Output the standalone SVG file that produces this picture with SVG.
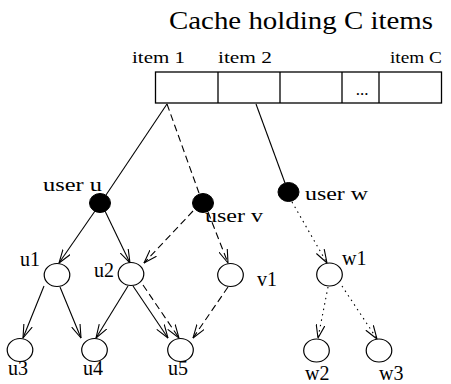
<svg xmlns="http://www.w3.org/2000/svg" width="451" height="384" viewBox="0 0 451 384">
<style>
text{font-family:"Liberation Serif","Times New Roman",serif;fill:#000}
.t{font-size:26px}
.it{font-size:17px}
.lb{font-size:19px}
.nl{font-size:20px}
.cell{fill:#fff;stroke:#000;stroke-width:1.3}
.fn{fill:#000;stroke:#000;stroke-width:1}
.on{fill:#fff;stroke:#000;stroke-width:1.2}
.e{fill:none;stroke:#000;stroke-width:1.1}
.d{stroke-dasharray:7,4}
.o{stroke-dasharray:1.5,4}
</style>
<defs>
<marker id="ah" viewBox="0 0 14 10" refX="13.5" refY="5" markerWidth="14" markerHeight="10" markerUnits="userSpaceOnUse" orient="auto">
<path d="M0,0.5 L13.5,5 L0,9.5" fill="none" stroke="#000" stroke-width="1.1"/>
</marker>
</defs>
<rect width="451" height="384" fill="#fff"/>
<g id="title"><text class="t" x="169" y="29" textLength="264" lengthAdjust="spacingAndGlyphs">Cache holding C items</text></g>
<g id="cache">
<rect class="cell" x="155.5" y="72" width="286" height="31"/>
<line class="cell" x1="218" y1="72" x2="218" y2="103"/>
<line class="cell" x1="280" y1="72" x2="280" y2="103"/>
<line class="cell" x1="342" y1="72" x2="342" y2="103"/>
<line class="cell" x1="379" y1="72" x2="379" y2="103"/>
<text class="it" x="362" y="95" text-anchor="middle">...</text>
<text class="it" x="132" y="63" textLength="53" lengthAdjust="spacingAndGlyphs">item 1</text>
<text class="it" x="218" y="63" textLength="54" lengthAdjust="spacingAndGlyphs">item 2</text>
<text class="it" x="390" y="63" textLength="52" lengthAdjust="spacingAndGlyphs">item C</text>
</g>
<g id="connectors">
<line class="e" x1="167" y1="104" x2="106" y2="195"/>
<line class="e d" x1="167" y1="104" x2="199" y2="193"/>
<line class="e" x1="256" y1="104" x2="285" y2="183"/>
<line class="e" x1="95" y1="211" x2="59" y2="263" marker-end="url(#ah)"/>
<line class="e" x1="105" y1="211" x2="130" y2="263" marker-end="url(#ah)"/>
<line class="e d" x1="193" y1="211" x2="144" y2="263" marker-end="url(#ah)"/>
<line class="e d" x1="208" y1="212" x2="228" y2="263" marker-end="url(#ah)"/>
<line class="e o" x1="292" y1="202" x2="327" y2="263" marker-end="url(#ah)"/>
<line class="e" x1="44" y1="286" x2="23" y2="338" marker-end="url(#ah)"/>
<line class="e" x1="60" y1="287" x2="81" y2="338" marker-end="url(#ah)"/>
<line class="e" x1="128" y1="286" x2="96" y2="338" marker-end="url(#ah)"/>
<line class="e" x1="133" y1="286" x2="168" y2="338" marker-end="url(#ah)"/>
<line class="e d" x1="143" y1="285" x2="179" y2="338" marker-end="url(#ah)"/>
<line class="e d" x1="228" y1="287" x2="193" y2="338" marker-end="url(#ah)"/>
<line class="e o" x1="328" y1="287" x2="318" y2="338" marker-end="url(#ah)"/>
<line class="e o" x1="342" y1="286" x2="377" y2="339" marker-end="url(#ah)"/>
</g>
<g id="user-u"><ellipse class="fn" cx="100" cy="203" rx="10.5" ry="9.5"/><text class="lb" x="43" y="191" textLength="59" lengthAdjust="spacingAndGlyphs">user u</text></g>
<g id="user-v"><ellipse class="fn" cx="203" cy="203" rx="10.5" ry="9.5"/><text class="lb" x="205" y="222" textLength="58" lengthAdjust="spacingAndGlyphs">user v</text></g>
<g id="user-w"><ellipse class="fn" cx="288.5" cy="192" rx="10.5" ry="9.5"/><text class="lb" x="305" y="200" textLength="63" lengthAdjust="spacingAndGlyphs">user w</text></g>
<g id="u1"><ellipse class="on" cx="57" cy="275" rx="12.8" ry="11.5"/><text class="nl" x="20" y="266">u1</text></g>
<g id="u2"><ellipse class="on" cx="131" cy="274" rx="12.8" ry="11.5"/><text class="nl" x="94" y="277">u2</text></g>
<g id="v1"><ellipse class="on" cx="230.5" cy="275" rx="12.8" ry="11.5"/><text class="nl" x="257" y="286">v1</text></g>
<g id="w1"><ellipse class="on" cx="329.5" cy="274.5" rx="12.8" ry="11.5"/><text class="nl" x="342" y="265">w1</text></g>
<g id="u3"><ellipse class="on" cx="20" cy="350" rx="12.8" ry="11.5"/><text class="nl" x="8" y="375">u3</text></g>
<g id="u4"><ellipse class="on" cx="94.5" cy="350" rx="12.8" ry="11.5"/><text class="nl" x="83" y="375">u4</text></g>
<g id="u5"><ellipse class="on" cx="180.5" cy="350" rx="12.8" ry="11.5"/><text class="nl" x="168" y="375">u5</text></g>
<g id="w2"><ellipse class="on" cx="316.5" cy="350.5" rx="12.8" ry="11.5"/><text class="nl" x="305" y="380">w2</text></g>
<g id="w3"><ellipse class="on" cx="379" cy="350.5" rx="12.8" ry="11.5"/><text class="nl" x="379" y="380">w3</text></g>
</svg>
